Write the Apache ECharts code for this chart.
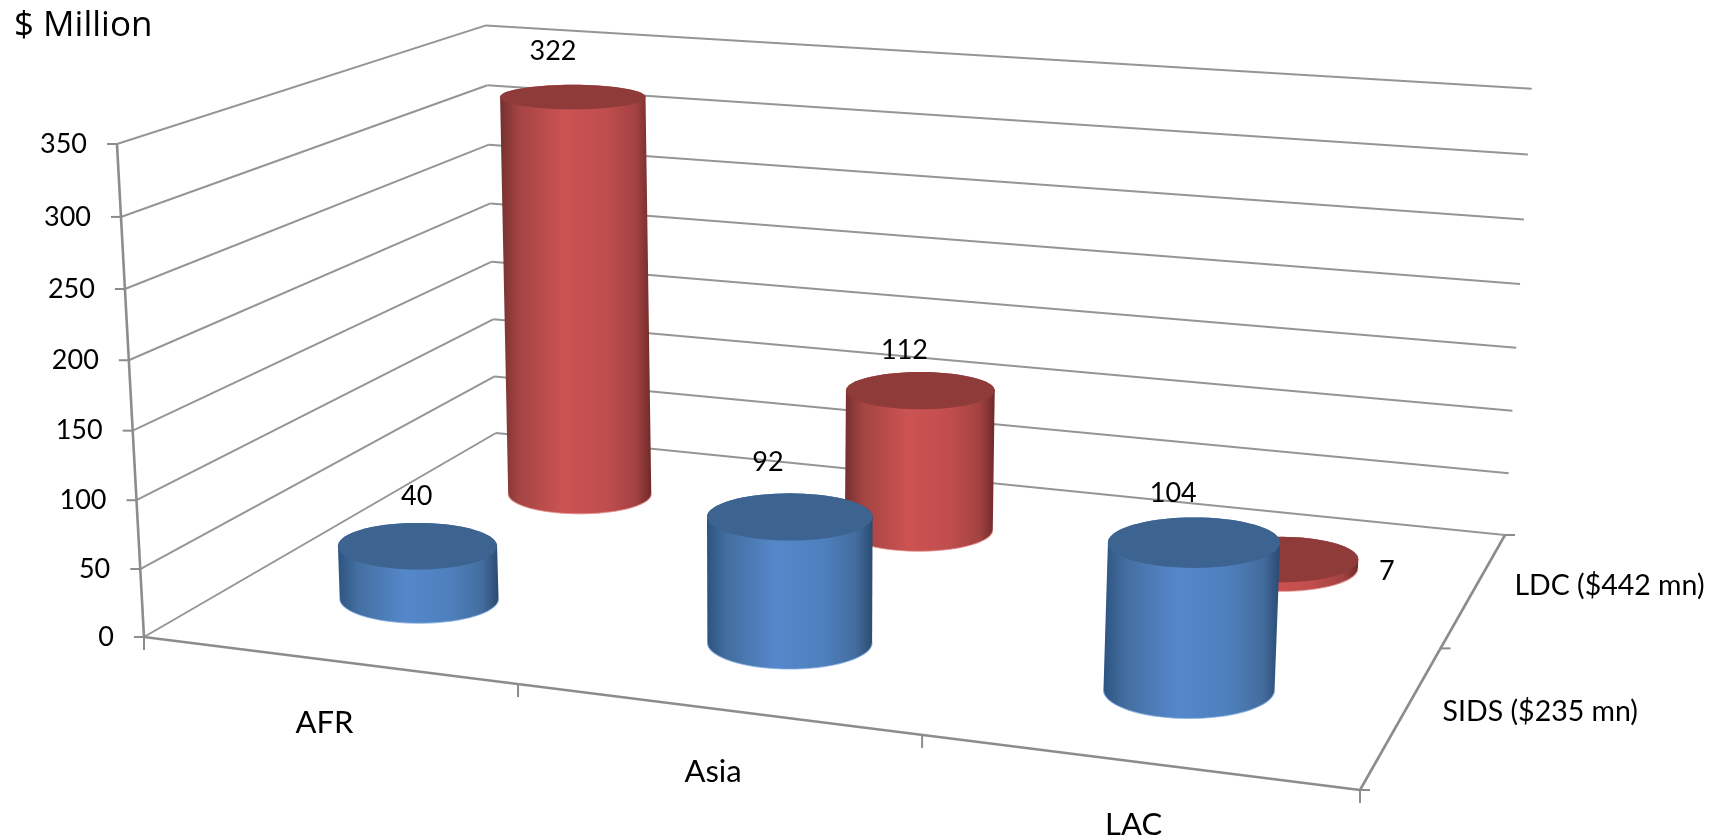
<!DOCTYPE html>
<html><head><meta charset="utf-8">
<style>html,body{margin:0;padding:0;background:#fff}#c{width:1714px;height:840px}</style>
<script src="https://cdn.jsdelivr.net/npm/echarts@6/dist/echarts.min.js"></script>
</head><body><div id="c"></div>
<script>
// ---- data ----
const categories = ['AFR', 'Asia', 'LAC'];
const depthLabels = ['SIDS ($235 mn)', 'LDC ($442 mn)'];
const sidsValues = [40, 92, 104];
const ldcValues = [322, 112, 7];
const yTicks = [0, 50, 100, 150, 200, 250, 300, 350];
const unitTitle = '$ Million';

// ---- perspective camera (screen calibration of the 3D box) ----
const FL = [144, 637], FR = [1360, 790], BR = [1505, 535], BL = [496, 433];
const VP = [791, 12440];          // vertical vanishing point
const TOP_FL_Y = 144;             // screen y of axis maximum on the front-left edge
const H = (function () {
  const [x0, y0] = FL, [x1, y1] = FR, [x2, y2] = BR, [x3, y3] = BL;
  const dx1 = x1 - x2, dx2 = x3 - x2, sx = x0 - x1 + x2 - x3;
  const dy1 = y1 - y2, dy2 = y3 - y2, sy = y0 - y1 + y2 - y3;
  const den = dx1 * dy2 - dx2 * dy1;
  const g = (sx * dy2 - dx2 * sy) / den, h = (dx1 * sy - sx * dy1) / den;
  return { a: x1 - x0 + g * x1, b: x3 - x0 + h * x3, c: x0, d: y1 - y0 + g * y1, e: y3 - y0 + h * y3, f: y0, g, h };
})();
const K = (TOP_FL_Y - FL[1]) / (VP[1] - TOP_FL_Y);
function proj(u, d, v) {           // u: 0..3 categories, d: 0..2 depth, v: 0..1 of value axis
  const s = u / categories.length, t = d / depthLabels.length, q = K * v;
  const X = H.a * s + H.b * t + H.c + q * VP[0];
  const Y = H.d * s + H.e * t + H.f + q * VP[1];
  const W = H.g * s + H.h * t + 1 + q;
  return [X / W, Y / W];
}
// read u / v from the library's own scales
function uv(api, params, cat, value) {
  const p = api.coord([cat, value]), cs = params.coordSys;
  return [(p[0] - cs.x) / cs.width * categories.length, 1 - (p[1] - cs.y) / cs.height];
}

const GRID = '#959595', AXIS = '#8c8c8c', INK = '#000';
const FONT = '27px Lato, Carlito, sans-serif';
const CAT_FONT = '31px Lato, Carlito, sans-serif';
const DEPTH_FONT = '28.5px Lato, Carlito, sans-serif';
function line(a, b, w, c) {
  return { type: 'line', shape: { x1: a[0], y1: a[1], x2: b[0], y2: b[1] }, style: { stroke: c || GRID, lineWidth: w || 2, fill: null } };
}
function text(str, x, y, align, font) {
  return { type: 'text', x: x, y: y, style: { text: str, fill: INK, font: font || FONT, textAlign: align || 'center', textVerticalAlign: 'middle' } };
}

const RD = 0.21, RX_K = { LDC: 3.95, SIDS: 4.2 }, SHIFT_X = -2.2;
const BODY = {
  LDC: [[0, '#74302f'], [.12, '#a34443'], [.42, '#cc5352'], [.7, '#c04e4d'], [.9, '#a24241'], [1, '#6e2a29']],
  SIDS: [[0, '#2d5380'], [.12, '#436e9f'], [.42, '#5588cb'], [.7, '#4e80bd'], [.9, '#436d9f'], [1, '#2b4a70']]
};
const TOPC = { LDC: '#8f3b3a', SIDS: '#3d6391' };
const RIM = { LDC: '#e3908e', SIDS: '#7fa9de' };
// data-label nudges relative to the cylinder top centre
const LABEL_OFF = { LDC: [[-22, -46], [-18, -40], [103, 12]], SIDS: [[-3, -50], [-24, -55], [-23, -49]] };

function cylinder(key, depthIdx) {
  return function (params, api) {
    const cat = api.value(0), val = api.value(1);
    const [u, v] = uv(api, params, cat, val);
    const d = depthIdx + 0.5;
    const ring = (vv) => {
      const c = proj(u, d, vv);
      const cell = proj(u + 0.5, d, vv)[0] - proj(u - 0.5, d, vv)[0];
      const rx = RX_K[key] * Math.sqrt(cell);
      const ry = (proj(u, d - RD, vv)[1] - proj(u, d + RD, vv)[1]) / 2;
      const pts = [];
      for (let i = 0; i < 72; i++) {
        const a = i / 72 * Math.PI * 2;
        pts.push([c[0] + SHIFT_X + rx * Math.cos(a), c[1] + ry * Math.sin(a)]);
      }
      return pts;
    };
    const base = ring(0), top = ring(v), body = [], rim = [];
    for (let i = 36; i >= 0; i--) { body.push(base[i]); rim.push(base[i]); } // lower arc of the base, left to right
    for (let i = 72; i >= 36; i--) body.push(top[i % 72]);                    // upper arc of the top, right to left
    const c = proj(u, d, v);
    const off = LABEL_OFF[key][cat];
    return {
      type: 'group', children: [
        { type: 'polygon', shape: { points: body }, style: { fill: new echarts.graphic.LinearGradient(0, 0, 1, 0, BODY[key].map(s => ({ offset: s[0], color: s[1] }))) } },
        { type: 'polyline', shape: { points: rim }, style: { stroke: RIM[key], lineWidth: 1.2, fill: null, opacity: 0.7 } },
        { type: 'polygon', shape: { points: top }, style: { fill: TOPC[key] } },
        text(String(val), c[0] + off[0], c[1] + off[1])
      ]
    };
  };
}

function frameItem(params, api) {
  const val = api.value(1);
  const [, v] = uv(api, params, 0, val);
  const a = proj(0, 0, v), b = proj(0, 2, v), c = proj(3, 2, v);
  return {
    type: 'group', children: [
      line(a, b), line(b, c),
      line([a[0] - 10, a[1]], [a[0], a[1]], 2, AXIS),
      text(String(val), a[0] - 30, a[1], 'right')
    ]
  };
}
function axisEdges(params, api) {
  const [, vm] = uv(api, params, 0, yTicks[yTicks.length - 1]);
  const f0 = proj(0, 0, 0), ft = proj(0, 0, vm), r0 = proj(3, 0, 0), rb = proj(3, 2, 0);
  const kids = [line(f0, ft, 2.6, AXIS), line(f0, r0, 2.6, AXIS), line(r0, rb, 2.6, AXIS)];
  for (let i = 0; i <= categories.length; i++) {
    const p = proj(i, 0, 0);
    kids.push(line(p, [p[0], p[1] + 13], 2, AXIS));
  }
  for (let i = 0; i <= depthLabels.length; i++) {
    const p = proj(3, i, 0);
    kids.push(line(p, [p[0] + 10, p[1]], 2, AXIS));
  }
  categories.forEach((n, i) => {
    const p = proj(i + 0.5, 0, 0);
    kids.push(text(n, p[0] - 3, p[1] + 63, 'center', CAT_FONT));
  });
  depthLabels.forEach((n, i) => {
    const p = proj(3, i + 0.5, 0);
    kids.push(text(n, p[0] + 40, p[1] - 3, 'left', DEPTH_FONT));
  });
  kids.push(text(unitTitle, 14, 26, 'left', '35px "Open Sans", sans-serif'));
  return { type: 'group', children: kids };
}

const chart = echarts.init(document.getElementById('c'), null, { renderer: 'canvas' });
chart.setOption({
  animation: false,
  backgroundColor: '#fff',
  grid: { left: 0, right: 0, top: 0, bottom: 0 },
  xAxis: { type: 'category', data: categories, show: false },
  yAxis: { type: 'value', min: 0, max: 350, interval: 50, show: false },
  series: [
    { type: 'custom', name: 'frame', clip: false, silent: true, renderItem: frameItem, data: yTicks.map(t => [0, t]) },
    { type: 'custom', name: 'axes', clip: false, silent: true, renderItem: axisEdges, data: [[0, 0]] },
    { type: 'custom', name: 'LDC', clip: false, renderItem: cylinder('LDC', 1), data: ldcValues.map((v, i) => [i, v]) },
    { type: 'custom', name: 'SIDS', clip: false, renderItem: cylinder('SIDS', 0), data: sidsValues.map((v, i) => [i, v]) }
  ]
});
</script></body></html>
